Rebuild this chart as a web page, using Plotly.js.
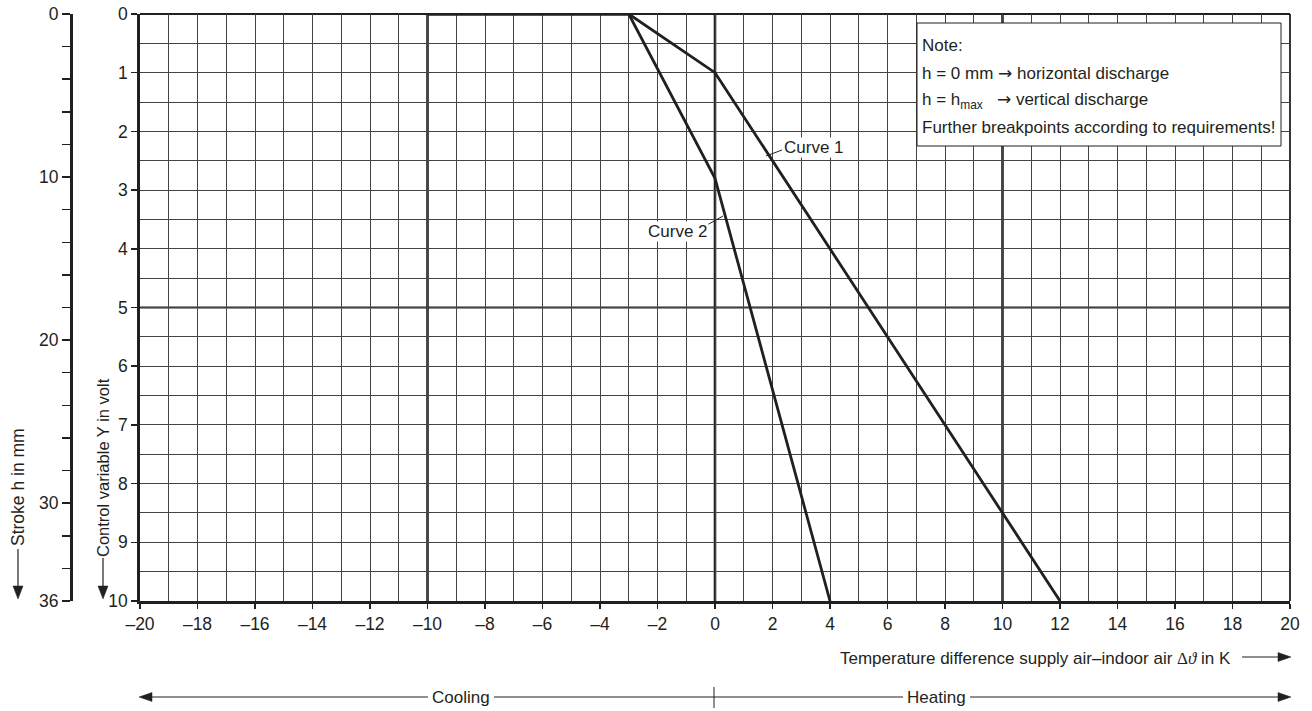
<!DOCTYPE html>
<html>
<head>
<meta charset="utf-8">
<script src="https://cdn.plot.ly/plotly-3.0.1.min.js"></script>
<style>html,body{margin:0;padding:0;background:#fff;}#chart{width:1312px;height:711px;}</style>
</head>
<body>
<div id="chart"></div>
<script>
// ---- data ----
const curve1X = [-10, -3, 0, 12];
const curve1Y = [0, 0, 1, 10];
const curve2X = [-10, -3, 0, 4];
const curve2Y = [0, 0, 2.8, 10];
const xTickVals = [-20,-18,-16,-14,-12,-10,-8,-6,-4,-2,0,2,4,6,8,10,12,14,16,18,20];
const xTickLabels = ['–20','–18','–16','–14','–12','–10','–8','–6','–4','–2','0','2','4','6','8','10','12','14','16','18','20'];
const yTickVals = [0,1,2,3,4,5,6,7,8,9,10];
const yTickLabels = ['0','1','2','3','4','5','6','7','8','9','10'];
const strokeTickVals = [0,10,20,30,36];
const strokeTickLabels = ['0','10','20','30','36'];
const heavyXLines = [-10, 0, 10];
const heavyYLines = [5];
const ARR = '<span style="font-family:\'DejaVu Sans\'">→</span>';
const noteLines = ['Note:', 'h = 0 mm ' + ARR + ' horizontal discharge', 'h = h<sub>max</sub>   ' + ARR + ' vertical discharge', 'Further breakpoints according to requirements!'];

// ---- helpers (pixel -> paper) ----
const W = 1312, H = 711;
const P = x => x / W;
const Q = y => 1 - y / H;
const INK = '#231f20';
const FONT = '"Liberation Sans", Arial, Helvetica, sans-serif';

const shapes = [];
const annotations = [];

// heavy grid lines
heavyXLines.forEach(v => shapes.push({type:'line', xref:'x', yref:'paper', x0:v, x1:v, y0:Q(601), y1:Q(14), line:{color:INK, width:2.6}, layer:'between'}));
heavyYLines.forEach(v => shapes.push({type:'line', xref:'paper', yref:'y', x0:P(140), x1:P(1290), y0:v, y1:v, line:{color:INK, width:2}, layer:'between'}));
// top and right border
shapes.push({type:'line', xref:'paper', yref:'paper', x0:P(140), x1:P(1290), y0:Q(14), y1:Q(14), line:{color:INK, width:1.8}, layer:'between'});
shapes.push({type:'line', xref:'paper', yref:'paper', x0:P(1290), x1:P(1290), y0:Q(14), y1:Q(601), line:{color:INK, width:1.8}, layer:'between'});

// note box
shapes.push({type:'rect', xref:'paper', yref:'paper', x0:P(917), x1:P(1281), y0:Q(23), y1:Q(146), fillcolor:'#fff', line:{color:INK, width:1}, layer:'above'});
const noteY = [45, 73, 100, 127];
noteLines.forEach((t, i) => annotations.push({xref:'paper', yref:'paper', x:P(920), y:Q(noteY[i]), xanchor:'left', yanchor:'middle', text:t, showarrow:false, font:{family:FONT, size:17, color:INK}}));

// curve labels
function line(x0,y0,x1,y1,w){ shapes.push({type:'line', xref:'paper', yref:'paper', x0:P(x0), y0:Q(y0), x1:P(x1), y1:Q(y1), line:{color:INK, width:w||1}, layer:'above'}); }
function tri(pts){ shapes.push({type:'path', xref:'paper', yref:'paper', path:'M'+pts.map(p=>P(p[0])+','+Q(p[1])).join(' L')+' Z', fillcolor:INK, line:{color:INK, width:0.5}, layer:'above'}); }
line(766,156,782,150,1);
annotations.push({xref:'paper', yref:'paper', x:P(783), y:Q(148), xanchor:'left', yanchor:'middle', text:'Curve 1', showarrow:false, bgcolor:'#fff', borderpad:0, font:{family:FONT, size:17, color:INK}});
line(707,225,723,216,1);
annotations.push({xref:'paper', yref:'paper', x:P(709), y:Q(232), xanchor:'right', yanchor:'middle', text:'Curve 2', showarrow:false, bgcolor:'#fff', borderpad:0, font:{family:FONT, size:17, color:INK}});

// left axis titles with arrows
annotations.push({xref:'paper', yref:'paper', x:P(103), y:Q(468), xanchor:'center', yanchor:'middle', text:'Control variable Y in volt', textangle:-90, showarrow:false, font:{family:FONT, size:16.5, color:INK}});
line(103,558,103,590,1.2); tri([[98,586],[108,586],[103,599]]);
annotations.push({xref:'paper', yref:'paper', x:P(18), y:Q(487), xanchor:'center', yanchor:'middle', text:'Stroke h in mm', textangle:-90, showarrow:false, font:{family:FONT, size:17.5, color:INK}});
line(18,549,18,590,1.2); tri([[13,586],[23,586],[18,599]]);

// bottom title with arrow
annotations.push({xref:'paper', yref:'paper', x:P(1233), y:Q(658), xanchor:'right', yanchor:'middle', text:'Temperature difference supply air–indoor air <span style="font-family:\'Liberation Serif\'">Δ<i>ϑ</i></span> in K', showarrow:false, font:{family:FONT, size:17, color:INK}});
line(1242,657,1280,657,1.2); tri([[1278,652.5],[1278,661.5],[1291,657]]);

// cooling / heating
line(150,697,428,697,1); line(494,697,903,697,1); line(970,697,1280,697,1);
tri([[152,692.5],[152,701.5],[139,697]]);
tri([[1278,692.5],[1278,701.5],[1291,697]]);
line(714,687,714,708,1);
annotations.push({xref:'paper', yref:'paper', x:P(461), y:Q(697), xanchor:'center', yanchor:'middle', text:'Cooling', showarrow:false, font:{family:FONT, size:17, color:INK}});
annotations.push({xref:'paper', yref:'paper', x:P(936), y:Q(697), xanchor:'center', yanchor:'middle', text:'Heating', showarrow:false, font:{family:FONT, size:17, color:INK}});

const traces = [
  {x:curve1X, y:curve1Y, mode:'lines', name:'Curve 1', line:{color:INK, width:2.8}, hoverinfo:'skip', showlegend:false},
  {x:curve2X, y:curve2Y, mode:'lines', name:'Curve 2', line:{color:INK, width:2.8}, hoverinfo:'skip', showlegend:false},
  {x:[null], y:[null], yaxis:'y2', mode:'lines', showlegend:false, hoverinfo:'skip'}
];

const GRID = '#444';
const layout = {
  width: W, height: H,
  margin: {l:0, r:0, t:0, b:0},
  paper_bgcolor:'#fff', plot_bgcolor:'#fff',
  showlegend:false,
  font:{family:FONT, color:INK, size:17},
  xaxis: {
    domain:[P(140), P(1290)], range:[-20,20], fixedrange:true,
    tickmode:'array', tickvals:xTickVals, ticktext:xTickLabels,
    ticks:'outside', ticklen:5, tickwidth:1.5, tickcolor:INK,
    showgrid:true, gridcolor:GRID, gridwidth:1,
    minor:{tickmode:'linear', tick0:-20, dtick:1, showgrid:true, gridcolor:GRID, gridwidth:1, ticks:''},
    zeroline:false, showline:true, linecolor:INK, linewidth:2.8,
    tickfont:{family:FONT, size:17.5, color:INK}
  },
  yaxis: {
    domain:[Q(601), Q(14)], range:[10,0], fixedrange:true,
    tickmode:'array', tickvals:yTickVals, ticktext:yTickLabels,
    ticks:'outside', ticklen:6, tickwidth:1.5, tickcolor:INK,
    showgrid:true, gridcolor:GRID, gridwidth:1,
    minor:{tickmode:'linear', tick0:0, dtick:0.5, showgrid:true, gridcolor:GRID, gridwidth:1, ticks:''},
    zeroline:false, showline:true, linecolor:INK, linewidth:2.8,
    tickfont:{family:FONT, size:17.5, color:INK}
  },
  yaxis2: {
    overlaying:'y', side:'left', anchor:'free', position:P(71),
    range:[36,0], fixedrange:true,
    tickmode:'array', tickvals:strokeTickVals, ticktext:strokeTickLabels,
    ticks:'outside', ticklen:8, tickwidth:1.5, tickcolor:INK,
    minor:{tickmode:'linear', tick0:0, dtick:2, ticks:'outside', ticklen:8, tickwidth:1.5, tickcolor:INK, showgrid:false},
    showgrid:false, zeroline:false, showline:true, linecolor:INK, linewidth:2.8,
    tickfont:{family:FONT, size:17.5, color:INK}
  },
  shapes: shapes,
  annotations: annotations
};

Plotly.newPlot('chart', traces, layout, {displayModeBar:false, staticPlot:true});
</script>
</body>
</html>
